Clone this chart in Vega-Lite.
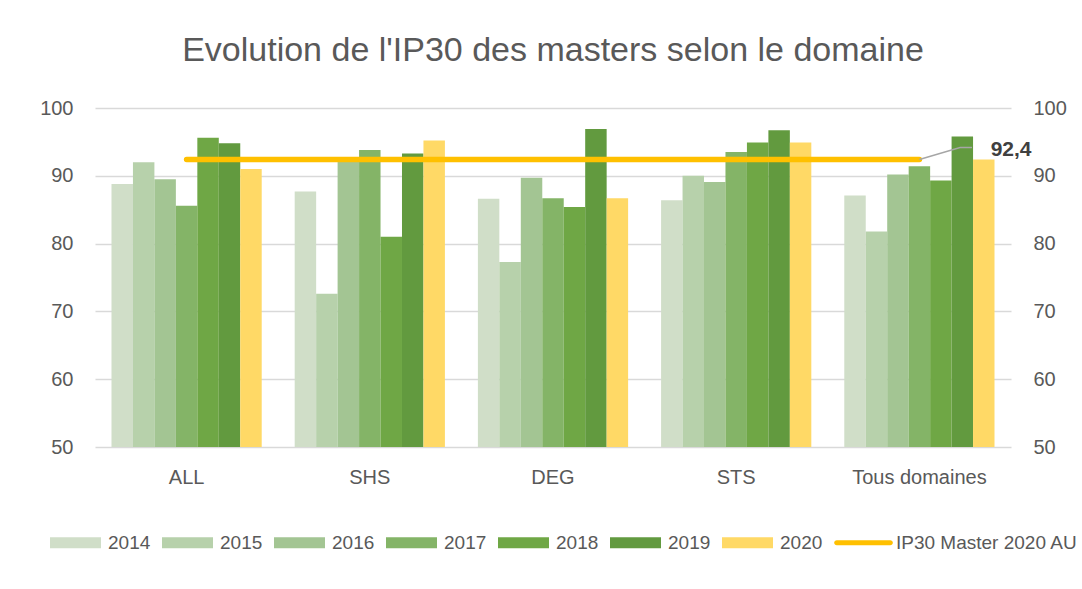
{
  "$schema": "https://vega.github.io/schema/vega-lite/v6.json",
  "width": 916,
  "height": 339,
  "autosize": {"type": "none"},
  "padding": {"left": 95, "top": 108, "right": 71, "bottom": 142},
  "background": "white",
  "config": {
    "font": "Liberation Sans",
    "view": {"stroke": null}
  },
  "title": {
    "text": "Evolution de l'IP30 des masters selon le domaine",
    "fontSize": 34,
    "fontWeight": "normal",
    "color": "#595959",
    "anchor": "middle",
    "offset": 30
  },
  "layer": [
    {
      "layer": [
        {
          "data": {
            "values": [
              {"domaine": "ALL", "annee": "2014", "ip30": 88.8},
              {"domaine": "ALL", "annee": "2015", "ip30": 92.0},
              {"domaine": "ALL", "annee": "2016", "ip30": 89.5},
              {"domaine": "ALL", "annee": "2017", "ip30": 85.6},
              {"domaine": "ALL", "annee": "2018", "ip30": 95.6},
              {"domaine": "ALL", "annee": "2019", "ip30": 94.8},
              {"domaine": "ALL", "annee": "2020", "ip30": 91.0},
              {"domaine": "SHS", "annee": "2014", "ip30": 87.7},
              {"domaine": "SHS", "annee": "2015", "ip30": 72.6},
              {"domaine": "SHS", "annee": "2016", "ip30": 92.1},
              {"domaine": "SHS", "annee": "2017", "ip30": 93.8},
              {"domaine": "SHS", "annee": "2018", "ip30": 81.0},
              {"domaine": "SHS", "annee": "2019", "ip30": 93.3},
              {"domaine": "SHS", "annee": "2020", "ip30": 95.2},
              {"domaine": "DEG", "annee": "2014", "ip30": 86.6},
              {"domaine": "DEG", "annee": "2015", "ip30": 77.3},
              {"domaine": "DEG", "annee": "2016", "ip30": 89.7},
              {"domaine": "DEG", "annee": "2017", "ip30": 86.7},
              {"domaine": "DEG", "annee": "2018", "ip30": 85.4},
              {"domaine": "DEG", "annee": "2019", "ip30": 96.9},
              {"domaine": "DEG", "annee": "2020", "ip30": 86.7},
              {"domaine": "STS", "annee": "2014", "ip30": 86.4},
              {"domaine": "STS", "annee": "2015", "ip30": 90.0},
              {"domaine": "STS", "annee": "2016", "ip30": 89.1},
              {"domaine": "STS", "annee": "2017", "ip30": 93.5},
              {"domaine": "STS", "annee": "2018", "ip30": 94.9},
              {"domaine": "STS", "annee": "2019", "ip30": 96.7},
              {"domaine": "STS", "annee": "2020", "ip30": 94.9},
              {"domaine": "Tous domaines", "annee": "2014", "ip30": 87.1},
              {"domaine": "Tous domaines", "annee": "2015", "ip30": 81.8},
              {"domaine": "Tous domaines", "annee": "2016", "ip30": 90.2},
              {"domaine": "Tous domaines", "annee": "2017", "ip30": 91.4},
              {"domaine": "Tous domaines", "annee": "2018", "ip30": 89.3},
              {"domaine": "Tous domaines", "annee": "2019", "ip30": 95.8},
              {"domaine": "Tous domaines", "annee": "2020", "ip30": 92.4}
            ]
          },
          "mark": {"type": "bar"},
          "encoding": {
            "x": {
              "field": "domaine",
              "type": "nominal",
              "scale": {"domain": ["ALL", "SHS", "DEG", "STS", "Tous domaines"], "paddingInner": 0.18, "paddingOuter": 0.09},
              "axis": {"title": null, "labelAngle": 0, "labelFontSize": 20, "labelColor": "#595959", "labelPadding": 20, "ticks": false, "domain": false, "grid": false}
            },
            "xOffset": {
              "field": "annee",
              "type": "nominal",
              "scale": {"paddingInner": 0, "paddingOuter": 0}
            },
            "y": {
              "field": "ip30",
              "type": "quantitative",
              "scale": {"domain": [50, 100], "nice": false, "zero": false},
              "axis": {"title": null, "values": [50, 60, 70, 80, 90, 100], "labelFontSize": 20, "labelColor": "#595959", "labelPadding": 22, "ticks": false, "domain": false, "grid": true, "gridColor": "#D9D9D9", "gridWidth": 1.5, "orient": "left"}
            },
            "y2": {"datum": 50},
            "color": {
              "field": "annee",
              "type": "nominal",
              "scale": {
                "domain": ["2014", "2015", "2016", "2017", "2018", "2019", "2020", "IP30 Master 2020 AU"],
                "range": ["#D0DEC8", "#B7D1AB", "#A3C593", "#84B467", "#6FA745", "#629A3F", "#FFD966", "#FFC000"]
              },
              "legend": {
                "title": null,
                "orient": "none",
                "direction": "horizontal",
                "legendX": -45,
                "legendY": 409,
                "labelFontSize": 19,
                "labelColor": "#595959",
                "labelLimit": 400,
                "labelOffset": 7,
                "columnPadding": 11,
                "symbolSize": 2601,
                "symbolStrokeWidth": 0,
                "encode": {
                  "symbols": {
                    "update": {
                      "shape": {"signal": "datum.value === 'IP30 Master 2020 AU' ? 'M-1.05,-0.1H1.05A0.1,0.1,0,0,1,1.05,0.1H-1.05A0.1,0.1,0,0,1,-1.05,-0.1Z' : 'M-1,-0.216H1V0.216H-1Z'"},
                      "fill": {"signal": "scale('color', datum.value)"},
                      "stroke": {"value": "transparent"},
                      "opacity": {"value": 1},
                      "fillOpacity": {"value": 1}
                    }
                  }
                }
              }
            }
          }
        },
        {
          "data": {
            "values": [
              {"domaine": "ALL", "ref": 92.4},
              {"domaine": "SHS", "ref": 92.4},
              {"domaine": "DEG", "ref": 92.4},
              {"domaine": "STS", "ref": 92.4},
              {"domaine": "Tous domaines", "ref": 92.4}
            ]
          },
          "mark": {"type": "line", "strokeWidth": 5.5, "strokeCap": "round"},
          "encoding": {
            "x": {"field": "domaine", "type": "nominal"},
            "y": {"field": "ref", "type": "quantitative"},
            "color": {"datum": "IP30 Master 2020 AU"}
          }
        }
      ]
    },
    {
      "layer": [
        {
          "data": {
            "values": [
              {"px": 4.5, "py": 92.4, "o": 1},
              {"px": 4.722, "py": 94.18, "o": 2},
              {"px": 4.787, "py": 94.18, "o": 3}
            ]
          },
          "mark": {"type": "line", "color": "#A6A6A6", "strokeWidth": 1.5},
          "encoding": {
            "x": {"field": "px", "type": "quantitative", "scale": {"domain": [0, 5], "nice": false, "zero": false}, "axis": null},
            "y": {
              "field": "py",
              "type": "quantitative",
              "axis": {"title": null, "values": [50, 60, 70, 80, 90, 100], "labelFontSize": 20, "labelColor": "#595959", "labelPadding": 22, "ticks": false, "domain": false, "grid": false, "orient": "right"}
            },
            "order": {"field": "o", "type": "quantitative"}
          }
        },
        {
          "data": {
            "values": [
              {"px": 4.889, "py": 93.74, "t": "92,4"}
            ]
          },
          "mark": {"type": "text", "align": "left", "baseline": "middle", "fontSize": 21, "fontWeight": "bold", "color": "#404040"},
          "encoding": {
            "x": {"field": "px", "type": "quantitative"},
            "y": {"field": "py", "type": "quantitative"},
            "text": {"field": "t"}
          }
        }
      ]
    }
  ],
  "resolve": {"scale": {"x": "independent"}, "axis": {"y": "independent", "x": "independent"}}
}
